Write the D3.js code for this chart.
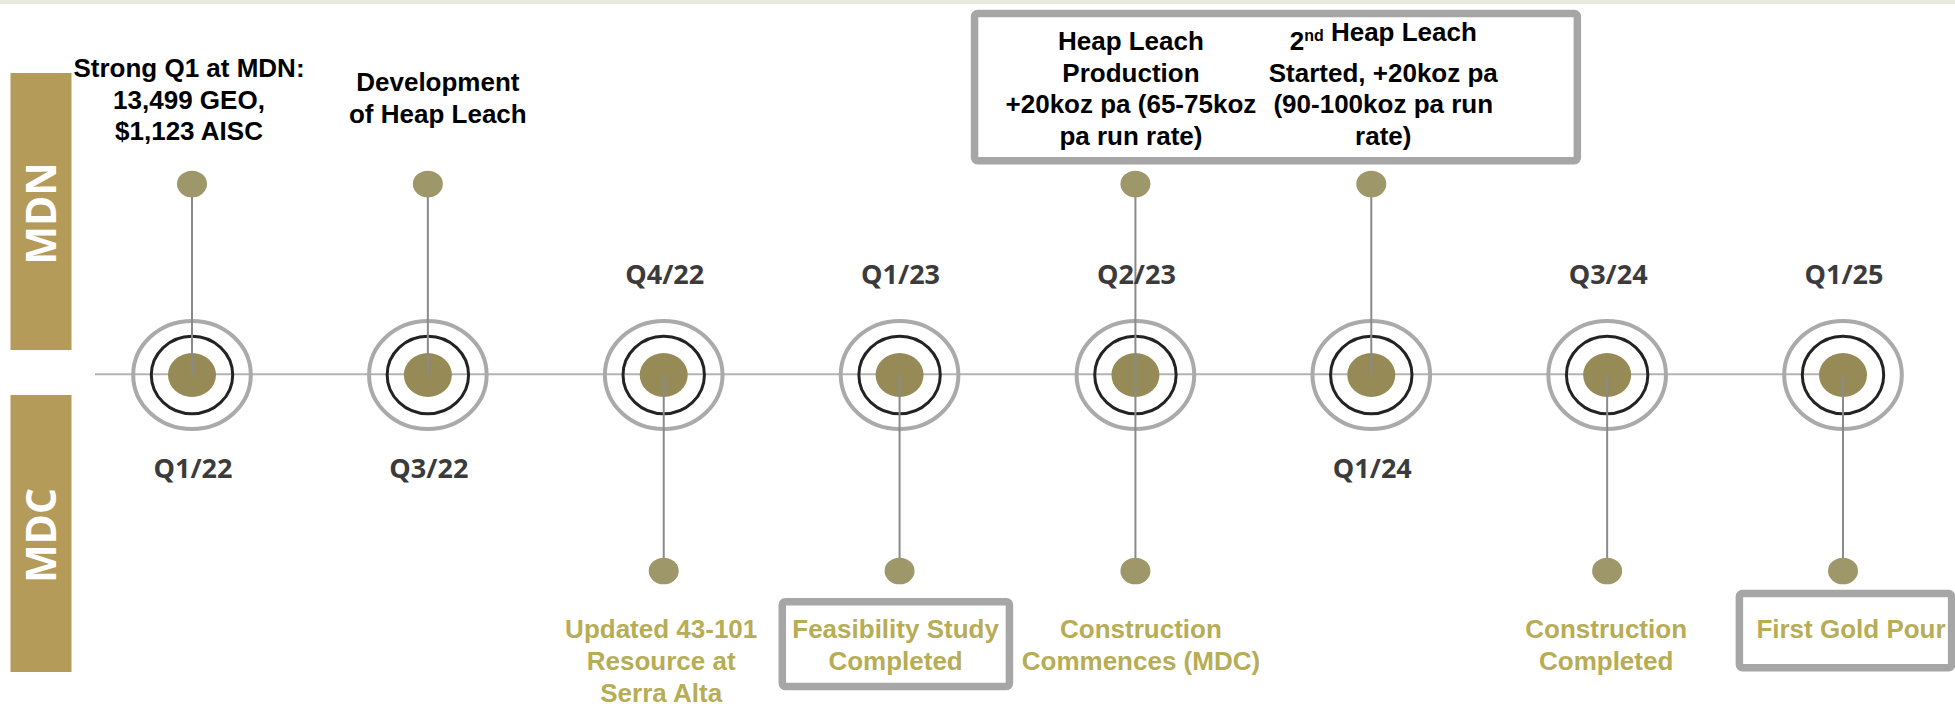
<!DOCTYPE html>
<html>
<head>
<meta charset="utf-8">
<script src="https://cdn.jsdelivr.net/npm/d3@7"></script>
<style>
  html, body { margin: 0; padding: 0; background: #ffffff; }
  svg { display: block; }
</style>
</head>
<body>
<svg id="chart" width="1955" height="704"></svg>
<script>
// ---------------- DATA ----------------
const quarters = ["Q1/22", "Q3/22", "Q4/22", "Q1/23", "Q2/23", "Q1/24", "Q3/24", "Q1/25"];
const quarterLabelSide = ["below", "below", "above", "above", "above", "below", "above", "above"];
const tracks = ["MDN", "MDC"];

// MDN milestones (drawn above the timeline)
const mdnQuarters = ["Q1/22", "Q3/22", "Q2/23", "Q1/24"];
const mdnTexts = [
  ["Strong Q1 at MDN:", "13,499 GEO,", "$1,123 AISC"],
  ["Development", "of Heap Leach"],
  ["Heap Leach", "Production", "+20koz pa (65-75koz", "pa run rate)"],
  ["2^{nd} Heap Leach", "Started, +20koz pa", "(90-100koz pa run", "rate)"]
];

// MDC milestones (drawn below the timeline)
const mdcQuarters = ["Q4/22", "Q1/23", "Q2/23", "Q3/24", "Q1/25"];
const mdcTexts = [
  ["Updated 43-101", "Resource at", "Serra Alta"],
  ["Feasibility Study", "Completed"],
  ["Construction", "Commences (MDC)"],
  ["Construction", "Completed"],
  ["First Gold Pour"]
];

// highlighted (boxed) milestone groups: [track, quarters...]
const boxedGroups = [
  ["MDN", "Q2/23", "Q1/24"],
  ["MDC", "Q1/23"],
  ["MDC", "Q1/25"]
];

// ---------------- LAYOUT / STYLE ----------------
const W = 1955, H = 704;
const C = {
  band: "#b59b5a",
  strip: "#e9eadf",
  line: "#b3b3b3",
  stem: "#8a8a8a",
  ring: "#aaaaaa",
  ringInner: "#232323",
  node: "#968b56",
  dot: "#9d9769",
  quarter: "#3b3b3b",
  mdnText: "#000000",
  mdcText: "#b6ad56",
  box: "#a6a6a6"
};
const FS = 26;                 // milestone font size
const ASC = 0.905 * FS, DESC = 0.212 * FS;
const lineY = 374.3, nodeY = 375, topDotY = 184, botDotY = 571;
const lineH = 31.6;
// label nudges (layout only): horizontal offset and first baseline of each text block
const mdnLayout = [
  { dx: -3, y0: 77 },
  { dx: 10, y0: 91 },
  { dx: -4.5, y0: 50 },
  { dx: 12, y0: 50 }
];
const mdcLayout = [
  { dx: -2.5, y0: 638.3 },
  { dx: -4, y0: 638.3 },
  { dx: 5.5, y0: 638.3 },
  { dx: -1, y0: 638.3 },
  { dx: 8, y0: 638.3 }
];
// box paddings [left, top, right, bottom] to stroke centre line
const boxPads = [
  [31, 13, 79, 10.5],
  [10, 13, 10, 11],
  [17, 21.3, 6, 24]
];

const svg = d3.select("#chart");

const x = d3.scalePoint().domain(quarters).range([192, 1843]);

// top strip
svg.append("rect").attr("x", 0).attr("y", 0).attr("width", W).attr("height", 4).attr("fill", C.strip);

// track bands
const bandY = d3.scaleOrdinal().domain(tracks).range([73, 395]);
const bandH = 277;
const bands = svg.append("g").selectAll("g").data(tracks).join("g");
bands.append("rect")
  .attr("x", 10.5).attr("y", d => bandY(d)).attr("width", 61).attr("height", bandH)
  .attr("fill", C.band);
bands.append("text")
  .attr("transform", d => `translate(41,${bandY(d) + bandH / 2 + 2}) rotate(-90)`)
  .attr("text-anchor", "middle")
  .attr("dy", "0.357em")
  .attr("font-family", "'Open Sans', sans-serif")
  .attr("font-weight", 700)
  .attr("font-size", 41)
  .attr("fill", "#ffffff")
  .text(d => d);

// main timeline
svg.append("line")
  .attr("x1", 95).attr("x2", x(quarters[quarters.length - 1]))
  .attr("y1", lineY).attr("y2", lineY)
  .attr("stroke", C.line).attr("stroke-width", 2);

// rings
const nodes = svg.append("g").selectAll("g").data(quarters).join("g")
  .attr("transform", d => `translate(${x(d)},${nodeY})`);
nodes.append("ellipse").attr("rx", 58.8).attr("ry", 54)
  .attr("fill", "none").attr("stroke", C.ring).attr("stroke-width", 4);
nodes.append("ellipse").attr("rx", 40.7).attr("ry", 38.8)
  .attr("fill", "none").attr("stroke", C.ringInner).attr("stroke-width", 3);

// stems
const stems = svg.append("g");
stems.selectAll("line.top").data(mdnQuarters).join("line").attr("class", "top")
  .attr("x1", d => x(d)).attr("x2", d => x(d))
  .attr("y1", topDotY).attr("y2", nodeY)
  .attr("stroke", C.stem).attr("stroke-width", 2);
stems.selectAll("line.bot").data(mdcQuarters).join("line").attr("class", "bot")
  .attr("x1", d => x(d)).attr("x2", d => x(d))
  .attr("y1", nodeY).attr("y2", botDotY)
  .attr("stroke", C.stem).attr("stroke-width", 2);

// node centres
nodes.append("ellipse").attr("rx", 24).attr("ry", 22).attr("fill", C.node);

// stem end dots
svg.append("g").selectAll("ellipse").data(mdnQuarters).join("ellipse")
  .attr("cx", d => x(d)).attr("cy", topDotY).attr("rx", 15).attr("ry", 13.3)
  .attr("fill", C.dot);
svg.append("g").selectAll("ellipse").data(mdcQuarters).join("ellipse")
  .attr("cx", d => x(d)).attr("cy", botDotY).attr("rx", 15).attr("ry", 13.3)
  .attr("fill", C.dot);

// quarter labels
svg.append("g").selectAll("text").data(quarters).join("text")
  .attr("x", d => x(d) + 1)
  .attr("y", (d, i) => quarterLabelSide[i] === "above" ? 284.3 : 477.7)
  .attr("text-anchor", "middle")
  .attr("font-family", "'Open Sans', sans-serif")
  .attr("font-weight", 700)
  .attr("font-size", 27)
  .attr("fill", C.quarter)
  .text(d => d);

// milestone texts
const boxLayer = svg.append("g");
const textLayer = svg.append("g");
const textInfo = { MDN: {}, MDC: {} };

function drawLines(track, q, lines, lay, color) {
  const cx = x(q) + lay.dx;
  const t = textLayer.append("text")
    .attr("text-anchor", "middle")
    .attr("font-family", "'Liberation Sans', Arial, sans-serif")
    .attr("font-weight", 700)
    .attr("font-size", FS)
    .attr("fill", color);
  lines.forEach((ln, i) => {
    const ts = t.append("tspan").attr("x", cx).attr("y", lay.y0 + i * lineH);
    const parts = ln.split(/\^\{(.*?)\}/);
    parts.forEach((p, k) => {
      if (p === "") return;
      if (k % 2 === 1) {
        ts.append("tspan").attr("font-size", 16).attr("dy", -9).text(p);
        ts.append("tspan").attr("dy", 9).text("");
      } else {
        ts.append("tspan").text(p);
      }
    });
  });
  textInfo[track][q] = { node: t.node(), top: lay.y0 - ASC, bottom: lay.y0 + (lines.length - 1) * lineH + DESC };
}
mdnQuarters.forEach((q, i) => drawLines("MDN", q, mdnTexts[i], mdnLayout[i], C.mdnText));
mdcQuarters.forEach((q, i) => drawLines("MDC", q, mdcTexts[i], mdcLayout[i], C.mdcText));

// highlight boxes around grouped milestone texts
boxedGroups.forEach((g, i) => {
  const [track, ...qs] = g;
  let x0 = Infinity, y0 = Infinity, x1 = -Infinity, y1 = -Infinity;
  qs.forEach(q => {
    const info = textInfo[track][q];
    const b = info.node.getBBox();
    x0 = Math.min(x0, b.x); x1 = Math.max(x1, b.x + b.width);
    y0 = Math.min(y0, info.top); y1 = Math.max(y1, info.bottom);
  });
  const p = boxPads[i];
  boxLayer.append("rect")
    .attr("x", x0 - p[0]).attr("y", y0 - p[1])
    .attr("width", (x1 - x0) + p[0] + p[2])
    .attr("height", (y1 - y0) + p[1] + p[3])
    .attr("rx", 3)
    .attr("fill", "#ffffff")
    .attr("stroke", C.box).attr("stroke-width", 7.5);
});
</script>
</body>
</html>
